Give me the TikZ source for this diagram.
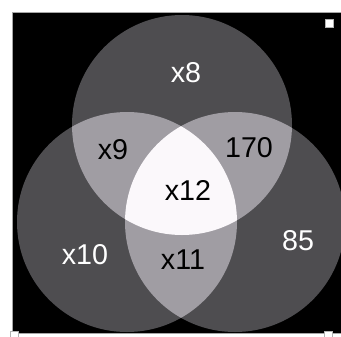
\documentclass[tikz,border=0pt]{standalone}
\usepackage{fontspec}
\setmainfont{Liberation Sans}
\definecolor{oneset}{RGB}{78,77,80}
\definecolor{twoset}{RGB}{160,157,163}
\definecolor{threeset}{RGB}{251,248,251}
\tikzset{
    lbl/.style={inner sep=0.75pt,font=\fontsize{21.5}{24}\selectfont},
    handle/.style={fill=white,draw=gray!60,line width=0.5pt}
}
\begin{document}
\begin{tikzpicture}[x=0.75pt,y=0.75pt,yscale=-1,xscale=1]
        \useasboundingbox (0,0) rectangle (341,336);
        \fill [white] (0,0) rectangle (341,336);
        \draw [fill=black,draw=gray!70] (12,12) rectangle (345,333);
        \begin{scope}
            \clip (12,12) rectangle (341,333);
            % one set
            \fill [oneset] (182,125) circle [radius=110];
            \fill [oneset] (127,222) circle [radius=110];
            \fill [oneset] (235,222) circle [radius=110];
            % two sets
            \begin{scope}
                \clip (182,125) circle [radius=110];
                \fill [twoset] (127,222) circle [radius=110];
                \fill [twoset] (235,222) circle [radius=110];
            \end{scope}
            \begin{scope}
                \clip (127,222) circle [radius=110];
                \fill [twoset] (235,222) circle [radius=110];
            \end{scope}
            % three sets
            \begin{scope}
                \clip (182,125) circle [radius=110];
                \clip (127,222) circle [radius=110];
                \fill [threeset] (235,222) circle [radius=110];
            \end{scope}
        \end{scope}
        \draw (186,73) node [lbl,text=white] (a) {x8};
        \draw (113,150) node [lbl] (ab) {x9};
        \draw (249,148) node [lbl] (ac) {170};
        \draw (188,190) node [lbl] (abc) {x12};
        \draw (85,255) node [lbl,text=white] (b) {x10};
        \draw (183,260) node [lbl] (bc) {x11};
        \draw (298,241) node [lbl,text=white] (c) {85};
        \draw [handle] (325,19) rectangle (333,27);
        \draw [handle] (10,331) rectangle (18,339);
        \draw [handle] (324,331) rectangle (332,339);
    \end{tikzpicture}
\end{document}
